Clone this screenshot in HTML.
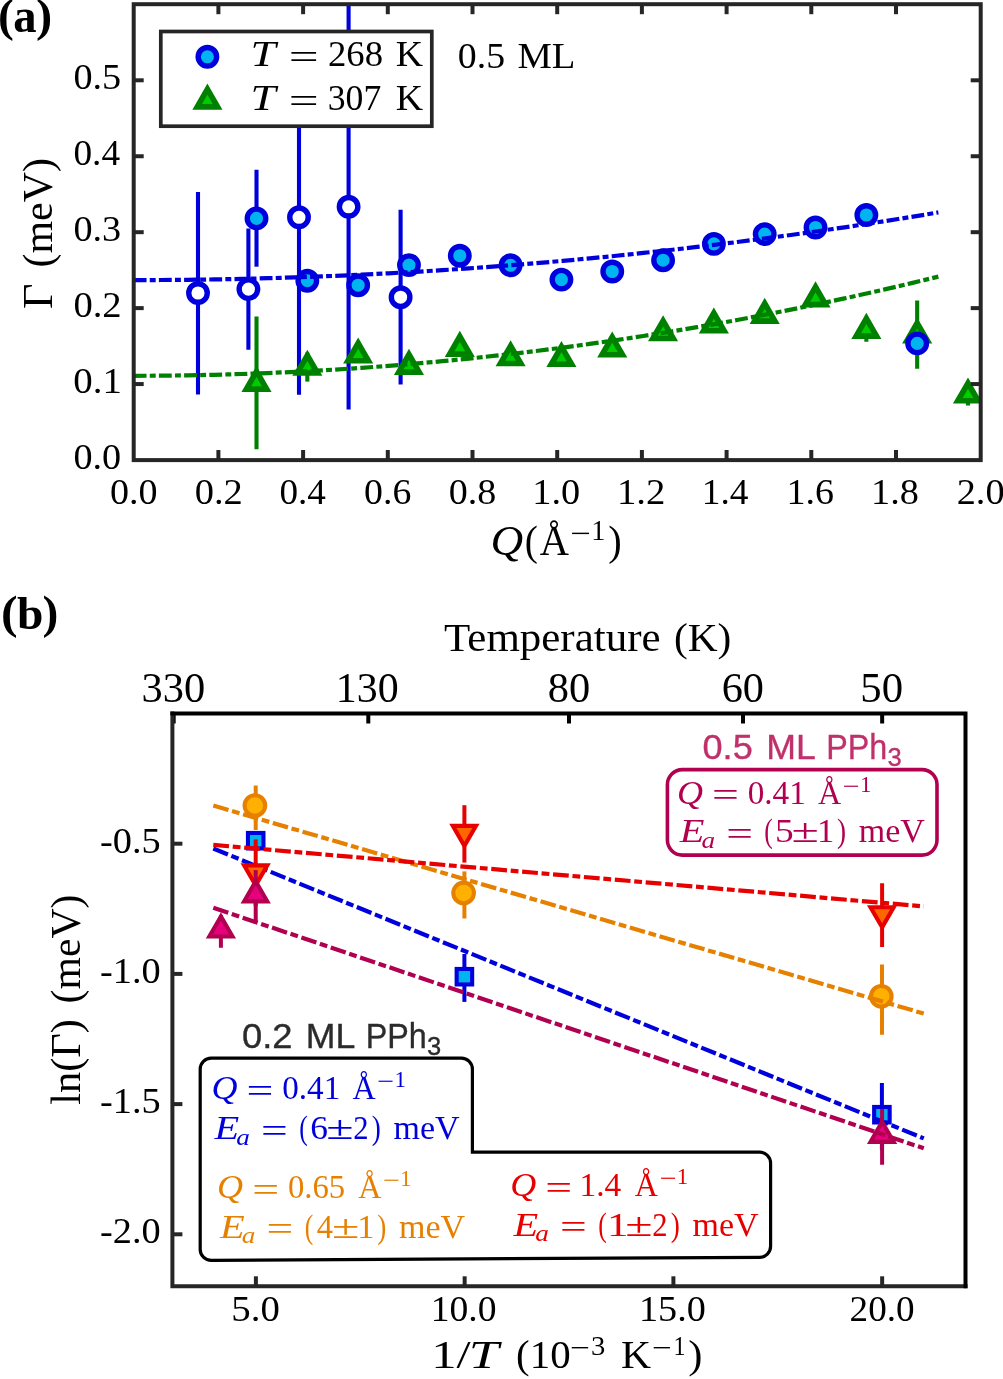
<!DOCTYPE html><html><head><meta charset="utf-8"><title>figure</title><style>html,body{margin:0;padding:0;background:#fff;overflow:hidden;}svg{display:block;will-change:transform;}</style></head><body><svg width="1003" height="1379" viewBox="0 0 1003 1379"><defs><clipPath id="ca"><rect x="133.7" y="4.2" width="847" height="455.8"/></clipPath><clipPath id="cb"><rect x="172.4" y="713.5" width="793.1" height="572.8"/></clipPath></defs>
<g clip-path="url(#ca)">
<line x1="198.00" y1="191.90" x2="198.00" y2="394.40" stroke="#0000dd" stroke-width="4.10"/>
<line x1="248.40" y1="228.40" x2="248.40" y2="349.80" stroke="#0000dd" stroke-width="4.10"/>
<line x1="299.00" y1="39.90" x2="299.00" y2="394.70" stroke="#0000dd" stroke-width="4.10"/>
<line x1="348.60" y1="0.00" x2="348.60" y2="409.60" stroke="#0000dd" stroke-width="4.10"/>
<line x1="400.60" y1="209.80" x2="400.60" y2="384.60" stroke="#0000dd" stroke-width="4.10"/>
<line x1="256.51" y1="169.70" x2="256.51" y2="266.70" stroke="#0000dd" stroke-width="4.10"/>
<line x1="256.51" y1="316.60" x2="256.51" y2="449.20" stroke="#008000" stroke-width="4.10"/>
<line x1="307.33" y1="352.50" x2="307.33" y2="381.60" stroke="#008000" stroke-width="4.10"/>
<line x1="866.36" y1="318.00" x2="866.36" y2="341.80" stroke="#008000" stroke-width="4.10"/>
<line x1="917.17" y1="300.40" x2="917.17" y2="368.80" stroke="#008000" stroke-width="4.10"/>
<line x1="967.99" y1="384.50" x2="967.99" y2="405.50" stroke="#008000" stroke-width="4.10"/>
<circle cx="198.00" cy="293.00" r="9.25" fill="#ffffff" stroke="#0000dd" stroke-width="5.40"/>
<circle cx="248.40" cy="289.10" r="9.25" fill="#ffffff" stroke="#0000dd" stroke-width="5.40"/>
<circle cx="299.00" cy="217.30" r="9.25" fill="#ffffff" stroke="#0000dd" stroke-width="5.40"/>
<circle cx="348.60" cy="206.80" r="9.25" fill="#ffffff" stroke="#0000dd" stroke-width="5.40"/>
<circle cx="400.60" cy="297.20" r="9.25" fill="#ffffff" stroke="#0000dd" stroke-width="5.40"/>
<polygon points="256.51,371.40 246.30,389.10 266.73,389.10" fill="#00cc00" stroke="#008000" stroke-width="5.60" stroke-linejoin="miter" stroke-miterlimit="10"/>
<polygon points="307.33,355.30 297.12,373.00 317.55,373.00" fill="#00cc00" stroke="#008000" stroke-width="5.60" stroke-linejoin="miter" stroke-miterlimit="10"/>
<polygon points="358.15,343.10 347.94,360.80 368.37,360.80" fill="#00cc00" stroke="#008000" stroke-width="5.60" stroke-linejoin="miter" stroke-miterlimit="10"/>
<polygon points="408.97,354.40 398.76,372.10 419.19,372.10" fill="#00cc00" stroke="#008000" stroke-width="5.60" stroke-linejoin="miter" stroke-miterlimit="10"/>
<polygon points="459.80,336.40 449.58,354.10 470.01,354.10" fill="#00cc00" stroke="#008000" stroke-width="5.60" stroke-linejoin="miter" stroke-miterlimit="10"/>
<polygon points="510.61,345.80 500.40,363.50 520.83,363.50" fill="#00cc00" stroke="#008000" stroke-width="5.60" stroke-linejoin="miter" stroke-miterlimit="10"/>
<polygon points="561.43,346.60 551.22,364.30 571.65,364.30" fill="#00cc00" stroke="#008000" stroke-width="5.60" stroke-linejoin="miter" stroke-miterlimit="10"/>
<polygon points="612.25,337.00 602.04,354.70 622.47,354.70" fill="#00cc00" stroke="#008000" stroke-width="5.60" stroke-linejoin="miter" stroke-miterlimit="10"/>
<polygon points="663.08,320.80 652.86,338.50 673.29,338.50" fill="#00cc00" stroke="#008000" stroke-width="5.60" stroke-linejoin="miter" stroke-miterlimit="10"/>
<polygon points="713.89,313.00 703.68,330.70 724.11,330.70" fill="#00cc00" stroke="#008000" stroke-width="5.60" stroke-linejoin="miter" stroke-miterlimit="10"/>
<polygon points="764.71,303.40 754.50,321.10 774.93,321.10" fill="#00cc00" stroke="#008000" stroke-width="5.60" stroke-linejoin="miter" stroke-miterlimit="10"/>
<polygon points="815.53,286.90 805.32,304.60 825.75,304.60" fill="#00cc00" stroke="#008000" stroke-width="5.60" stroke-linejoin="miter" stroke-miterlimit="10"/>
<polygon points="866.36,318.40 856.14,336.10 876.57,336.10" fill="#00cc00" stroke="#008000" stroke-width="5.60" stroke-linejoin="miter" stroke-miterlimit="10"/>
<polygon points="917.17,323.00 906.96,340.70 927.39,340.70" fill="#00cc00" stroke="#008000" stroke-width="5.60" stroke-linejoin="miter" stroke-miterlimit="10"/>
<polygon points="967.99,383.10 957.78,400.80 978.21,400.80" fill="#00cc00" stroke="#008000" stroke-width="5.60" stroke-linejoin="miter" stroke-miterlimit="10"/>
<circle cx="256.51" cy="218.40" r="9.25" fill="#00b4f0" stroke="#0000dd" stroke-width="5.40"/>
<circle cx="307.33" cy="280.70" r="9.25" fill="#00b4f0" stroke="#0000dd" stroke-width="5.40"/>
<circle cx="358.15" cy="285.20" r="9.25" fill="#00b4f0" stroke="#0000dd" stroke-width="5.40"/>
<circle cx="408.97" cy="265.10" r="9.25" fill="#00b4f0" stroke="#0000dd" stroke-width="5.40"/>
<circle cx="459.80" cy="255.70" r="9.25" fill="#00b4f0" stroke="#0000dd" stroke-width="5.40"/>
<circle cx="510.61" cy="265.30" r="9.25" fill="#00b4f0" stroke="#0000dd" stroke-width="5.40"/>
<circle cx="561.43" cy="279.60" r="9.25" fill="#00b4f0" stroke="#0000dd" stroke-width="5.40"/>
<circle cx="612.25" cy="271.50" r="9.25" fill="#00b4f0" stroke="#0000dd" stroke-width="5.40"/>
<circle cx="663.08" cy="260.20" r="9.25" fill="#00b4f0" stroke="#0000dd" stroke-width="5.40"/>
<circle cx="713.89" cy="243.90" r="9.25" fill="#00b4f0" stroke="#0000dd" stroke-width="5.40"/>
<circle cx="764.71" cy="234.10" r="9.25" fill="#00b4f0" stroke="#0000dd" stroke-width="5.40"/>
<circle cx="815.53" cy="227.50" r="9.25" fill="#00b4f0" stroke="#0000dd" stroke-width="5.40"/>
<circle cx="866.36" cy="215.00" r="9.25" fill="#00b4f0" stroke="#0000dd" stroke-width="5.40"/>
<circle cx="917.17" cy="343.40" r="9.25" fill="#00b4f0" stroke="#0000dd" stroke-width="5.40"/>
<polyline points="133.70,280.10 147.11,280.08 160.52,280.02 173.93,279.93 187.34,279.80 200.75,279.63 214.16,279.42 227.58,279.18 240.99,278.90 254.40,278.58 267.81,278.22 281.22,277.82 294.63,277.39 308.04,276.92 321.45,276.41 334.86,275.87 348.27,275.29 361.68,274.67 375.09,274.01 388.51,273.31 401.92,272.58 415.33,271.81 428.74,271.00 442.15,270.16 455.56,269.27 468.97,268.35 482.38,267.39 495.79,266.40 509.20,265.36 522.61,264.29 536.02,263.18 549.44,262.04 562.85,260.85 576.26,259.63 589.67,258.37 603.08,257.08 616.49,255.74 629.90,254.37 643.31,252.96 656.72,251.51 670.13,250.03 683.54,248.51 696.95,246.95 710.37,245.35 723.78,243.71 737.19,242.04 750.60,240.33 764.01,238.58 777.42,236.80 790.83,234.97 804.24,233.11 817.65,231.21 831.06,229.28 844.47,227.31 857.88,225.29 871.30,223.25 884.71,221.16 898.12,219.04 911.53,216.87 924.94,214.68 938.35,212.44" fill="none" stroke="#0000dd" stroke-width="4.20" stroke-dasharray="12.85 3.2 5.95 3.2"/>
<polyline points="133.70,375.78 147.11,375.75 160.52,375.67 173.93,375.53 187.34,375.34 200.75,375.09 214.16,374.79 227.58,374.43 240.99,374.02 254.40,373.55 267.81,373.03 281.22,372.45 294.63,371.82 308.04,371.13 321.45,370.38 334.86,369.58 348.27,368.73 361.68,367.82 375.09,366.86 388.51,365.84 401.92,364.76 415.33,363.63 428.74,362.45 442.15,361.21 455.56,359.91 468.97,358.56 482.38,357.16 495.79,355.70 509.20,354.18 522.61,352.61 536.02,350.99 549.44,349.31 562.85,347.57 576.26,345.78 589.67,343.93 603.08,342.03 616.49,340.08 629.90,338.06 643.31,336.00 656.72,333.88 670.13,331.70 683.54,329.47 696.95,327.18 710.37,324.84 723.78,322.44 737.19,319.99 750.60,317.48 764.01,314.92 777.42,312.30 790.83,309.63 804.24,306.90 817.65,304.12 831.06,301.28 844.47,298.39 857.88,295.44 871.30,292.44 884.71,289.38 898.12,286.27 911.53,283.10 924.94,279.88 938.35,276.60" fill="none" stroke="#008000" stroke-width="4.20" stroke-dasharray="12.85 3.2 5.95 3.2"/>
</g>
<line x1="218.40" y1="460.00" x2="218.40" y2="450.00" stroke="#262626" stroke-width="4.00"/>
<line x1="218.40" y1="4.20" x2="218.40" y2="14.20" stroke="#262626" stroke-width="4.00"/>
<line x1="303.10" y1="460.00" x2="303.10" y2="450.00" stroke="#262626" stroke-width="4.00"/>
<line x1="303.10" y1="4.20" x2="303.10" y2="14.20" stroke="#262626" stroke-width="4.00"/>
<line x1="387.80" y1="460.00" x2="387.80" y2="450.00" stroke="#262626" stroke-width="4.00"/>
<line x1="387.80" y1="4.20" x2="387.80" y2="14.20" stroke="#262626" stroke-width="4.00"/>
<line x1="472.50" y1="460.00" x2="472.50" y2="450.00" stroke="#262626" stroke-width="4.00"/>
<line x1="472.50" y1="4.20" x2="472.50" y2="14.20" stroke="#262626" stroke-width="4.00"/>
<line x1="557.20" y1="460.00" x2="557.20" y2="450.00" stroke="#262626" stroke-width="4.00"/>
<line x1="557.20" y1="4.20" x2="557.20" y2="14.20" stroke="#262626" stroke-width="4.00"/>
<line x1="641.90" y1="460.00" x2="641.90" y2="450.00" stroke="#262626" stroke-width="4.00"/>
<line x1="641.90" y1="4.20" x2="641.90" y2="14.20" stroke="#262626" stroke-width="4.00"/>
<line x1="726.60" y1="460.00" x2="726.60" y2="450.00" stroke="#262626" stroke-width="4.00"/>
<line x1="726.60" y1="4.20" x2="726.60" y2="14.20" stroke="#262626" stroke-width="4.00"/>
<line x1="811.30" y1="460.00" x2="811.30" y2="450.00" stroke="#262626" stroke-width="4.00"/>
<line x1="811.30" y1="4.20" x2="811.30" y2="14.20" stroke="#262626" stroke-width="4.00"/>
<line x1="896.00" y1="460.00" x2="896.00" y2="450.00" stroke="#262626" stroke-width="4.00"/>
<line x1="896.00" y1="4.20" x2="896.00" y2="14.20" stroke="#262626" stroke-width="4.00"/>
<line x1="133.70" y1="384.06" x2="143.70" y2="384.06" stroke="#262626" stroke-width="4.00"/>
<line x1="980.70" y1="384.06" x2="970.70" y2="384.06" stroke="#262626" stroke-width="4.00"/>
<line x1="133.70" y1="308.12" x2="143.70" y2="308.12" stroke="#262626" stroke-width="4.00"/>
<line x1="980.70" y1="308.12" x2="970.70" y2="308.12" stroke="#262626" stroke-width="4.00"/>
<line x1="133.70" y1="232.18" x2="143.70" y2="232.18" stroke="#262626" stroke-width="4.00"/>
<line x1="980.70" y1="232.18" x2="970.70" y2="232.18" stroke="#262626" stroke-width="4.00"/>
<line x1="133.70" y1="156.24" x2="143.70" y2="156.24" stroke="#262626" stroke-width="4.00"/>
<line x1="980.70" y1="156.24" x2="970.70" y2="156.24" stroke="#262626" stroke-width="4.00"/>
<line x1="133.70" y1="80.30" x2="143.70" y2="80.30" stroke="#262626" stroke-width="4.00"/>
<line x1="980.70" y1="80.30" x2="970.70" y2="80.30" stroke="#262626" stroke-width="4.00"/>
<rect x="133.7" y="4.2" width="847" height="455.9" fill="none" stroke="#262626" stroke-width="4.0" stroke-linejoin="miter"/>
<rect x="160.8" y="31.5" width="271" height="94.7" fill="#fff" stroke="#262626" stroke-width="3.7"/>
<circle cx="207.40" cy="56.80" r="9.25" fill="#00b4f0" stroke="#0000dd" stroke-width="5.40"/>
<polygon points="207.40,89.20 197.18,106.90 217.62,106.90" fill="#00cc00" stroke="#008000" stroke-width="5.60" stroke-linejoin="miter" stroke-miterlimit="10"/>
<g clip-path="url(#cb)">
<line x1="255.70" y1="833.00" x2="255.70" y2="849.00" stroke="#0000dd" stroke-width="4.00"/>
<line x1="464.40" y1="954.00" x2="464.40" y2="1001.90" stroke="#0000dd" stroke-width="4.00"/>
<line x1="881.90" y1="1083.10" x2="881.90" y2="1150.00" stroke="#0000dd" stroke-width="4.00"/>
<rect x="247.95" y="832.95" width="15.50" height="15.50" fill="#00b4f0" stroke="#0000dd" stroke-width="4.10"/>
<rect x="456.65" y="968.95" width="15.50" height="15.50" fill="#00b4f0" stroke="#0000dd" stroke-width="4.10"/>
<rect x="874.15" y="1106.95" width="15.50" height="15.50" fill="#00b4f0" stroke="#0000dd" stroke-width="4.10"/>
<polyline points="213.30,848.50 923.80,1138.40" fill="none" stroke="#0000dd" stroke-width="4.20" stroke-dasharray="15.8 3.7 7.8 3.7"/>
<line x1="255.70" y1="785.50" x2="255.70" y2="830.00" stroke="#e68000" stroke-width="4.00"/>
<line x1="464.40" y1="871.40" x2="464.40" y2="918.50" stroke="#e68000" stroke-width="4.00"/>
<line x1="882.00" y1="964.40" x2="882.00" y2="1034.80" stroke="#e68000" stroke-width="4.00"/>
<circle cx="254.90" cy="805.50" r="10.30" fill="#ffb000" stroke="#e68000" stroke-width="4.10"/>
<circle cx="463.60" cy="892.90" r="10.30" fill="#ffb000" stroke="#e68000" stroke-width="4.10"/>
<circle cx="881.30" cy="996.30" r="10.30" fill="#ffb000" stroke="#e68000" stroke-width="4.10"/>
<polyline points="213.30,805.50 923.80,1013.60" fill="none" stroke="#e68000" stroke-width="4.20" stroke-dasharray="15.8 3.7 7.8 3.7"/>
<line x1="255.70" y1="839.40" x2="255.70" y2="906.00" stroke="#e60000" stroke-width="4.00"/>
<line x1="464.40" y1="805.20" x2="464.40" y2="862.60" stroke="#e60000" stroke-width="4.00"/>
<line x1="882.10" y1="883.20" x2="882.10" y2="947.00" stroke="#e60000" stroke-width="4.00"/>
<polygon points="255.70,885.45 244.10,865.35 267.30,865.35" fill="#ff6600" stroke="#e60000" stroke-width="4.10" stroke-linejoin="miter" stroke-miterlimit="10"/>
<polygon points="464.40,845.95 452.80,825.85 476.00,825.85" fill="#ff6600" stroke="#e60000" stroke-width="4.10" stroke-linejoin="miter" stroke-miterlimit="10"/>
<polygon points="882.10,927.35 870.50,907.25 893.70,907.25" fill="#ff6600" stroke="#e60000" stroke-width="4.10" stroke-linejoin="miter" stroke-miterlimit="10"/>
<polyline points="213.30,844.90 923.80,906.40" fill="none" stroke="#e60000" stroke-width="4.20" stroke-dasharray="15.8 3.7 7.8 3.7"/>
<line x1="220.90" y1="915.00" x2="220.90" y2="947.80" stroke="#b0004f" stroke-width="4.00"/>
<line x1="255.70" y1="870.10" x2="255.70" y2="922.30" stroke="#b0004f" stroke-width="4.00"/>
<line x1="882.10" y1="1109.00" x2="882.10" y2="1164.80" stroke="#b0004f" stroke-width="4.00"/>
<polygon points="220.90,916.45 209.30,936.55 232.50,936.55" fill="#e6007e" stroke="#b0004f" stroke-width="4.10" stroke-linejoin="miter" stroke-miterlimit="10"/>
<polygon points="255.70,881.25 244.10,901.35 267.30,901.35" fill="#e6007e" stroke="#b0004f" stroke-width="4.10" stroke-linejoin="miter" stroke-miterlimit="10"/>
<polygon points="882.10,1121.75 870.50,1141.85 893.70,1141.85" fill="#e6007e" stroke="#b0004f" stroke-width="4.10" stroke-linejoin="miter" stroke-miterlimit="10"/>
<polyline points="213.30,907.70 923.80,1148.30" fill="none" stroke="#b0004f" stroke-width="4.20" stroke-dasharray="15.8 3.7 7.8 3.7"/>
</g>
<line x1="255.90" y1="1286.30" x2="255.90" y2="1276.30" stroke="#262626" stroke-width="4.00"/>
<line x1="464.65" y1="1286.30" x2="464.65" y2="1276.30" stroke="#262626" stroke-width="4.00"/>
<line x1="673.40" y1="1286.30" x2="673.40" y2="1276.30" stroke="#262626" stroke-width="4.00"/>
<line x1="882.15" y1="1286.30" x2="882.15" y2="1276.30" stroke="#262626" stroke-width="4.00"/>
<line x1="172.40" y1="843.70" x2="182.40" y2="843.70" stroke="#262626" stroke-width="4.00"/>
<line x1="172.40" y1="973.90" x2="182.40" y2="973.90" stroke="#262626" stroke-width="4.00"/>
<line x1="172.40" y1="1104.10" x2="182.40" y2="1104.10" stroke="#262626" stroke-width="4.00"/>
<line x1="172.40" y1="1234.30" x2="182.40" y2="1234.30" stroke="#262626" stroke-width="4.00"/>
<line x1="173.67" y1="713.50" x2="173.67" y2="723.50" stroke="#000" stroke-width="4.00"/>
<line x1="368.30" y1="713.50" x2="368.30" y2="723.50" stroke="#000" stroke-width="4.00"/>
<line x1="569.02" y1="713.50" x2="569.02" y2="723.50" stroke="#000" stroke-width="4.00"/>
<line x1="742.98" y1="713.50" x2="742.98" y2="723.50" stroke="#000" stroke-width="4.00"/>
<line x1="882.15" y1="713.50" x2="882.15" y2="723.50" stroke="#000" stroke-width="4.00"/>
<path d="M172.4,713.5 V1286.3 H965.5" fill="none" stroke="#262626" stroke-width="4.0" stroke-linejoin="miter" stroke-linecap="square"/>
<path d="M172.4,713.5 H965.5 V1286.3" fill="none" stroke="#000" stroke-width="4.0" stroke-linejoin="miter" stroke-linecap="square"/>
<rect x="667.4" y="769.6" width="269.6" height="85.5" rx="15" ry="15" fill="#fff" stroke="#b0004f" stroke-width="3.6"/>
<path d="M200.2,1069.2 A11,11 0 0 1 211.2,1058.2 H461.4 A11,11 0 0 1 472.4,1069.2 V1152.2 H759.6 A11,11 0 0 1 770.6,1163.2 V1246.3 A11,11 0 0 1 759.6,1257.3 L211.2,1260.4 A11,11 0 0 1 200.2,1249.4 Z" fill="#fff" stroke="#000" stroke-width="3.2" stroke-linejoin="miter"/>
<text transform="translate(-2.02,31.30) scale(1.0122,1.0000)" font-family='"Liberation Serif", serif' font-size="47" font-weight="bold" font-style="normal" fill="#000">(</text>
<text transform="translate(13.31,32.20) scale(0.9929,1.0157)" font-family='"Liberation Serif", serif' font-size="47" font-weight="bold" font-style="normal" fill="#000">a</text>
<text transform="translate(35.94,31.30) scale(1.0367,1.0000)" font-family='"Liberation Serif", serif' font-size="47" font-weight="bold" font-style="normal" fill="#000">)</text>
<text transform="translate(0.88,628.40) scale(1.0612,1.0000)" font-family='"Liberation Serif", serif' font-size="47" font-weight="bold" font-style="normal" fill="#000">(</text>
<text transform="translate(16.89,629.00) scale(1.0105,0.9771)" font-family='"Liberation Serif", serif' font-size="47" font-weight="bold" font-style="normal" fill="#000">b</text>
<text transform="translate(42.38,628.40) scale(1.0122,1.0000)" font-family='"Liberation Serif", serif' font-size="47" font-weight="bold" font-style="normal" fill="#000">)</text>
<text transform="translate(73.39,469.00) scale(1.0465,1.0000)" font-family='"Liberation Serif", serif' font-size="36.5" font-weight="normal" font-style="normal" fill="#000">0.0</text>
<text transform="translate(73.37,393.06) scale(1.0651,1.0000)" font-family='"Liberation Serif", serif' font-size="36.5" font-weight="normal" font-style="normal" fill="#000">0.1</text>
<text transform="translate(73.38,317.12) scale(1.0588,1.0000)" font-family='"Liberation Serif", serif' font-size="36.5" font-weight="normal" font-style="normal" fill="#000">0.2</text>
<text transform="translate(73.39,241.18) scale(1.0465,1.0000)" font-family='"Liberation Serif", serif' font-size="36.5" font-weight="normal" font-style="normal" fill="#000">0.3</text>
<text transform="translate(73.42,165.24) scale(1.0227,1.0000)" font-family='"Liberation Serif", serif' font-size="36.5" font-weight="normal" font-style="normal" fill="#000">0.4</text>
<text transform="translate(73.39,89.30) scale(1.0465,1.0000)" font-family='"Liberation Serif", serif' font-size="36.5" font-weight="normal" font-style="normal" fill="#000">0.5</text>
<text transform="translate(110.00,504.40) scale(1.0419,1.0000)" font-family='"Liberation Serif", serif' font-size="36.5" font-weight="normal" font-style="normal" fill="#000">0.0</text>
<text transform="translate(194.68,504.40) scale(1.0541,1.0000)" font-family='"Liberation Serif", serif' font-size="36.5" font-weight="normal" font-style="normal" fill="#000">0.2</text>
<text transform="translate(279.43,504.40) scale(1.0182,1.0000)" font-family='"Liberation Serif", serif' font-size="36.5" font-weight="normal" font-style="normal" fill="#000">0.4</text>
<text transform="translate(364.11,504.40) scale(1.0358,1.0000)" font-family='"Liberation Serif", serif' font-size="36.5" font-weight="normal" font-style="normal" fill="#000">0.6</text>
<text transform="translate(448.80,504.40) scale(1.0419,1.0000)" font-family='"Liberation Serif", serif' font-size="36.5" font-weight="normal" font-style="normal" fill="#000">0.8</text>
<text transform="translate(532.29,504.40) scale(1.0488,1.0000)" font-family='"Liberation Serif", serif' font-size="36.5" font-weight="normal" font-style="normal" fill="#000">1.0</text>
<text transform="translate(616.95,504.40) scale(1.0617,1.0000)" font-family='"Liberation Serif", serif' font-size="36.5" font-weight="normal" font-style="normal" fill="#000">1.2</text>
<text transform="translate(701.77,504.40) scale(1.0238,1.0000)" font-family='"Liberation Serif", serif' font-size="36.5" font-weight="normal" font-style="normal" fill="#000">1.4</text>
<text transform="translate(786.41,504.40) scale(1.0424,1.0000)" font-family='"Liberation Serif", serif' font-size="36.5" font-weight="normal" font-style="normal" fill="#000">1.6</text>
<text transform="translate(871.09,504.40) scale(1.0488,1.0000)" font-family='"Liberation Serif", serif' font-size="36.5" font-weight="normal" font-style="normal" fill="#000">1.8</text>
<text transform="translate(956.73,504.40) scale(1.0480,1.0000)" font-family='"Liberation Serif", serif' font-size="36.5" font-weight="normal" font-style="normal" fill="#000">2.0</text>
<text transform="translate(490.43,554.70) scale(1.0536,1.0000)" font-family='"Liberation Serif", serif' font-size="43" font-weight="normal" font-style="italic" fill="#000">Q</text>
<text transform="translate(524.70,554.70) scale(0.9156,1.0000)" font-family='"Liberation Serif", serif' font-size="43" font-weight="normal" font-style="normal" fill="#000">(</text>
<text transform="translate(539.76,554.70) scale(0.9410,1.0000)" font-family='"Liberation Serif", serif' font-size="43" font-weight="normal" font-style="normal" fill="#000">Å</text>
<text transform="translate(570.13,542.78) scale(1.2582,1.0000)" font-family='"Liberation Serif", serif' font-size="29" font-weight="normal" font-style="normal" fill="#000">−</text>
<text transform="translate(591.36,540.40) scale(0.9756,1.0000)" font-family='"Liberation Serif", serif' font-size="29" font-weight="normal" font-style="normal" fill="#000">1</text>
<text transform="translate(608.32,554.50) scale(0.9422,1.0000)" font-family='"Liberation Serif", serif' font-size="43" font-weight="normal" font-style="normal" fill="#000">)</text>
<text transform="translate(51.70,309.08) rotate(-90) scale(1.0247,1.0000)" font-family='"Liberation Serif", serif' font-size="43" font-weight="normal" font-style="normal" fill="#000">Γ</text>
<text transform="translate(51.70,267.61) rotate(-90) scale(0.9770,1.0000)" font-family='"Liberation Serif", serif' font-size="43" font-weight="normal" font-style="normal" fill="#000">(meV)</text>
<text transform="translate(250.47,65.80) scale(1.2600,1.0000)" font-family='"Liberation Serif", serif' font-size="36" font-weight="normal" font-style="italic" fill="#000">T</text>
<text transform="translate(288.72,68.61) scale(1.4746,1.0000)" font-family='"Liberation Serif", serif' font-size="36" font-weight="normal" font-style="normal" fill="#000">=</text>
<text transform="translate(327.97,65.80) scale(1.0205,1.0000)" font-family='"Liberation Serif", serif' font-size="36" font-weight="normal" font-style="normal" fill="#000">268</text>
<text transform="translate(395.75,65.80) scale(1.0505,1.0000)" font-family='"Liberation Serif", serif' font-size="36" font-weight="normal" font-style="normal" fill="#000">K</text>
<text transform="translate(250.47,109.70) scale(1.2600,1.0000)" font-family='"Liberation Serif", serif' font-size="36" font-weight="normal" font-style="italic" fill="#000">T</text>
<text transform="translate(288.72,112.51) scale(1.4746,1.0000)" font-family='"Liberation Serif", serif' font-size="36" font-weight="normal" font-style="normal" fill="#000">=</text>
<text transform="translate(327.77,109.70) scale(0.9912,1.0000)" font-family='"Liberation Serif", serif' font-size="36" font-weight="normal" font-style="normal" fill="#000">307</text>
<text transform="translate(395.75,109.70) scale(1.0505,1.0000)" font-family='"Liberation Serif", serif' font-size="36" font-weight="normal" font-style="normal" fill="#000">K</text>
<text transform="translate(457.81,67.70) scale(1.0349,1.0000)" font-family='"Liberation Serif", serif' font-size="36.5" font-weight="normal" font-style="normal" fill="#000">0.5</text>
<text transform="translate(517.44,67.70) scale(1.0602,1.0000)" font-family='"Liberation Serif", serif' font-size="36.5" font-weight="normal" font-style="normal" fill="#000">ML</text>
<text transform="translate(444.09,650.70) scale(1.0742,1.0000)" font-family='"Liberation Serif", serif' font-size="40" font-weight="normal" font-style="normal" fill="#000">Temperature</text>
<text transform="translate(673.89,650.70) scale(1.0346,1.0000)" font-family='"Liberation Serif", serif' font-size="40" font-weight="normal" font-style="normal" fill="#000">(K)</text>
<text transform="translate(141.54,701.80) scale(1.0118,1.0000)" font-family='"Liberation Serif", serif' font-size="42" font-weight="normal" font-style="normal" fill="#000">330</text>
<text transform="translate(335.86,701.80) scale(0.9983,1.0000)" font-family='"Liberation Serif", serif' font-size="42" font-weight="normal" font-style="normal" fill="#000">130</text>
<text transform="translate(547.81,701.80) scale(1.0103,1.0000)" font-family='"Liberation Serif", serif' font-size="42" font-weight="normal" font-style="normal" fill="#000">80</text>
<text transform="translate(721.72,701.80) scale(1.0065,1.0000)" font-family='"Liberation Serif", serif' font-size="42" font-weight="normal" font-style="normal" fill="#000">60</text>
<text transform="translate(860.25,701.80) scale(1.0184,1.0000)" font-family='"Liberation Serif", serif' font-size="42" font-weight="normal" font-style="normal" fill="#000">50</text>
<text transform="translate(231.32,1321.40) scale(1.0627,1.0000)" font-family='"Liberation Serif", serif' font-size="36.5" font-weight="normal" font-style="normal" fill="#000">5.0</text>
<text transform="translate(430.80,1321.40) scale(1.0295,1.0000)" font-family='"Liberation Serif", serif' font-size="36.5" font-weight="normal" font-style="normal" fill="#000">10.0</text>
<text transform="translate(639.00,1321.40) scale(1.0464,1.0000)" font-family='"Liberation Serif", serif' font-size="36.5" font-weight="normal" font-style="normal" fill="#000">15.0</text>
<text transform="translate(849.57,1321.40) scale(1.0180,1.0000)" font-family='"Liberation Serif", serif' font-size="36.5" font-weight="normal" font-style="normal" fill="#000">20.0</text>
<text transform="translate(100.09,852.70) scale(1.0498,1.0000)" font-family='"Liberation Serif", serif' font-size="36.5" font-weight="normal" font-style="normal" fill="#000">-0.5</text>
<text transform="translate(100.09,982.90) scale(1.0498,1.0000)" font-family='"Liberation Serif", serif' font-size="36.5" font-weight="normal" font-style="normal" fill="#000">-1.0</text>
<text transform="translate(100.09,1113.10) scale(1.0498,1.0000)" font-family='"Liberation Serif", serif' font-size="36.5" font-weight="normal" font-style="normal" fill="#000">-1.5</text>
<text transform="translate(100.09,1243.30) scale(1.0498,1.0000)" font-family='"Liberation Serif", serif' font-size="36.5" font-weight="normal" font-style="normal" fill="#000">-2.0</text>
<text transform="translate(431.16,1367.70) scale(1.2691,1.0000)" font-family='"Liberation Serif", serif' font-size="40" font-weight="normal" font-style="normal" fill="#000">1/</text>
<text transform="translate(468.63,1367.70) scale(1.3483,1.0000)" font-family='"Liberation Serif", serif' font-size="40" font-weight="normal" font-style="italic" fill="#000">T</text>
<text transform="translate(516.11,1367.70) scale(1.0220,1.0000)" font-family='"Liberation Serif", serif' font-size="40" font-weight="normal" font-style="normal" fill="#000">(10</text>
<text transform="translate(570.32,1356.90) scale(1.2604,1.0000)" font-family='"Liberation Serif", serif' font-size="28" font-weight="normal" font-style="normal" fill="#000">−</text>
<text transform="translate(591.12,1354.60) scale(1.0213,1.0000)" font-family='"Liberation Serif", serif' font-size="28" font-weight="normal" font-style="normal" fill="#000">3</text>
<text transform="translate(621.06,1367.70) scale(1.0400,1.0000)" font-family='"Liberation Serif", serif' font-size="40" font-weight="normal" font-style="normal" fill="#000">K</text>
<text transform="translate(652.24,1356.90) scale(1.2453,1.0000)" font-family='"Liberation Serif", serif' font-size="28" font-weight="normal" font-style="normal" fill="#000">−</text>
<text transform="translate(673.45,1354.60) scale(0.8600,1.0000)" font-family='"Liberation Serif", serif' font-size="28" font-weight="normal" font-style="normal" fill="#000">1</text>
<text transform="translate(688.27,1367.70) scale(1.0667,1.0000)" font-family='"Liberation Serif", serif' font-size="40" font-weight="normal" font-style="normal" fill="#000">)</text>
<text transform="translate(79.60,1104.84) rotate(-90) scale(0.9864,1.0000)" font-family='"Liberation Serif", serif' font-size="43" font-weight="normal" font-style="normal" fill="#000">ln(Γ)</text>
<text transform="translate(79.60,1003.50) rotate(-90) scale(0.9714,1.0000)" font-family='"Liberation Serif", serif' font-size="43" font-weight="normal" font-style="normal" fill="#000">(meV)</text>
<text transform="translate(702.51,758.50) scale(1.0326,1.0000)" font-family='"Liberation Sans", sans-serif' font-size="35" font-weight="normal" font-style="normal" fill="#c0306a" stroke="#c0306a" stroke-width="0.35">0.5</text>
<text transform="translate(766.30,758.50) scale(1.0190,1.0000)" font-family='"Liberation Sans", sans-serif' font-size="35" font-weight="normal" font-style="normal" fill="#c0306a" stroke="#c0306a" stroke-width="0.35">ML</text>
<text transform="translate(826.26,758.50) scale(0.9224,1.0000)" font-family='"Liberation Sans", sans-serif' font-size="35" font-weight="normal" font-style="normal" fill="#c0306a" stroke="#c0306a" stroke-width="0.35">PPh</text>
<text transform="translate(887.38,765.50) scale(1.0213,1.0000)" font-family='"Liberation Sans", sans-serif' font-size="25" font-weight="normal" font-style="normal" fill="#c0306a" stroke="#c0306a" stroke-width="0.35">3</text>
<text transform="translate(242.00,1048.30) scale(1.0383,1.0000)" font-family='"Liberation Sans", sans-serif' font-size="35" font-weight="normal" font-style="normal" fill="#2b2b2b" stroke="#2b2b2b" stroke-width="0.35">0.2</text>
<text transform="translate(305.80,1048.30) scale(1.0190,1.0000)" font-family='"Liberation Sans", sans-serif' font-size="35" font-weight="normal" font-style="normal" fill="#2b2b2b" stroke="#2b2b2b" stroke-width="0.35">ML</text>
<text transform="translate(365.76,1048.30) scale(0.9224,1.0000)" font-family='"Liberation Sans", sans-serif' font-size="35" font-weight="normal" font-style="normal" fill="#2b2b2b" stroke="#2b2b2b" stroke-width="0.35">PPh</text>
<text transform="translate(426.88,1055.30) scale(1.0213,1.0000)" font-family='"Liberation Sans", sans-serif' font-size="25" font-weight="normal" font-style="normal" fill="#2b2b2b" stroke="#2b2b2b" stroke-width="0.35">3</text>
<text transform="translate(676.89,803.50) scale(1.0930,1.0000)" font-family='"Liberation Serif", serif' font-size="33" font-weight="normal" font-style="italic" fill="#b0004f">Q</text>
<text transform="translate(712.03,806.07) scale(1.4452,1.0000)" font-family='"Liberation Serif", serif' font-size="33" font-weight="normal" font-style="normal" fill="#b0004f">=</text>
<text transform="translate(747.74,803.50) scale(1.0055,1.0000)" font-family='"Liberation Serif", serif' font-size="33" font-weight="normal" font-style="normal" fill="#b0004f">0.41</text>
<text transform="translate(817.96,803.50) scale(0.9745,1.0000)" font-family='"Liberation Serif", serif' font-size="33" font-weight="normal" font-style="normal" fill="#b0004f">Å</text>
<text transform="translate(842.85,793.57) scale(1.2522,1.0000)" font-family='"Liberation Serif", serif' font-size="24" font-weight="normal" font-style="normal" fill="#b0004f">−</text>
<text transform="translate(859.88,791.60) scale(0.9600,1.0000)" font-family='"Liberation Serif", serif' font-size="24" font-weight="normal" font-style="normal" fill="#b0004f">1</text>
<text transform="translate(679.71,842.00) scale(1.2247,1.0000)" font-family='"Liberation Serif", serif' font-size="33" font-weight="normal" font-style="italic" fill="#b0004f">E</text>
<text transform="translate(701.45,847.80) scale(1.1333,1.0000)" font-family='"Liberation Serif", serif' font-size="24" font-weight="normal" font-style="italic" fill="#b0004f">a</text>
<text transform="translate(726.14,844.57) scale(1.4387,1.0000)" font-family='"Liberation Serif", serif' font-size="33" font-weight="normal" font-style="normal" fill="#b0004f">=</text>
<text transform="translate(764.34,842.00) scale(0.7765,1.0000)" font-family='"Liberation Serif", serif' font-size="33" font-weight="normal" font-style="normal" fill="#b0004f">(</text>
<text transform="translate(774.92,842.00) scale(1.1333,1.0000)" font-family='"Liberation Serif", serif' font-size="33" font-weight="normal" font-style="normal" fill="#b0004f">5</text>
<text transform="translate(791.51,842.00) scale(1.5097,1.0000)" font-family='"Liberation Serif", serif' font-size="33" font-weight="normal" font-style="normal" fill="#b0004f">±</text>
<text transform="translate(816.92,842.00) scale(1.0468,1.0000)" font-family='"Liberation Serif", serif' font-size="33" font-weight="normal" font-style="normal" fill="#b0004f">1</text>
<text transform="translate(836.88,842.00) scale(0.8235,1.0000)" font-family='"Liberation Serif", serif' font-size="33" font-weight="normal" font-style="normal" fill="#b0004f">)</text>
<text transform="translate(858.68,842.00) scale(1.0308,1.0000)" font-family='"Liberation Serif", serif' font-size="33" font-weight="normal" font-style="normal" fill="#b0004f">meV</text>
<text transform="translate(211.39,1099.30) scale(1.0930,1.0000)" font-family='"Liberation Serif", serif' font-size="33" font-weight="normal" font-style="italic" fill="#0000dd">Q</text>
<text transform="translate(246.53,1101.87) scale(1.4452,1.0000)" font-family='"Liberation Serif", serif' font-size="33" font-weight="normal" font-style="normal" fill="#0000dd">=</text>
<text transform="translate(282.24,1099.30) scale(1.0055,1.0000)" font-family='"Liberation Serif", serif' font-size="33" font-weight="normal" font-style="normal" fill="#0000dd">0.41</text>
<text transform="translate(352.46,1099.30) scale(0.9745,1.0000)" font-family='"Liberation Serif", serif' font-size="33" font-weight="normal" font-style="normal" fill="#0000dd">Å</text>
<text transform="translate(377.35,1089.37) scale(1.2522,1.0000)" font-family='"Liberation Serif", serif' font-size="24" font-weight="normal" font-style="normal" fill="#0000dd">−</text>
<text transform="translate(394.38,1087.40) scale(0.9600,1.0000)" font-family='"Liberation Serif", serif' font-size="24" font-weight="normal" font-style="normal" fill="#0000dd">1</text>
<text transform="translate(214.51,1139.00) scale(1.2247,1.0000)" font-family='"Liberation Serif", serif' font-size="33" font-weight="normal" font-style="italic" fill="#0000dd">E</text>
<text transform="translate(236.25,1144.80) scale(1.1333,1.0000)" font-family='"Liberation Serif", serif' font-size="24" font-weight="normal" font-style="italic" fill="#0000dd">a</text>
<text transform="translate(260.94,1141.57) scale(1.4387,1.0000)" font-family='"Liberation Serif", serif' font-size="33" font-weight="normal" font-style="normal" fill="#0000dd">=</text>
<text transform="translate(299.14,1139.00) scale(0.7765,1.0000)" font-family='"Liberation Serif", serif' font-size="33" font-weight="normal" font-style="normal" fill="#0000dd">(</text>
<text transform="translate(310.36,1139.00) scale(1.0737,1.0000)" font-family='"Liberation Serif", serif' font-size="33" font-weight="normal" font-style="normal" fill="#0000dd">6</text>
<text transform="translate(326.31,1139.00) scale(1.5097,1.0000)" font-family='"Liberation Serif", serif' font-size="33" font-weight="normal" font-style="normal" fill="#0000dd">±</text>
<text transform="translate(353.21,1139.00) scale(0.9283,1.0000)" font-family='"Liberation Serif", serif' font-size="33" font-weight="normal" font-style="normal" fill="#0000dd">2</text>
<text transform="translate(371.68,1139.00) scale(0.8235,1.0000)" font-family='"Liberation Serif", serif' font-size="33" font-weight="normal" font-style="normal" fill="#0000dd">)</text>
<text transform="translate(393.48,1139.00) scale(1.0308,1.0000)" font-family='"Liberation Serif", serif' font-size="33" font-weight="normal" font-style="normal" fill="#0000dd">meV</text>
<text transform="translate(217.09,1198.30) scale(1.0930,1.0000)" font-family='"Liberation Serif", serif' font-size="33" font-weight="normal" font-style="italic" fill="#e68000">Q</text>
<text transform="translate(252.23,1200.87) scale(1.4452,1.0000)" font-family='"Liberation Serif", serif' font-size="33" font-weight="normal" font-style="normal" fill="#e68000">=</text>
<text transform="translate(287.96,1198.30) scale(0.9919,1.0000)" font-family='"Liberation Serif", serif' font-size="33" font-weight="normal" font-style="normal" fill="#e68000">0.65</text>
<text transform="translate(358.16,1198.30) scale(0.9745,1.0000)" font-family='"Liberation Serif", serif' font-size="33" font-weight="normal" font-style="normal" fill="#e68000">Å</text>
<text transform="translate(383.05,1188.37) scale(1.2522,1.0000)" font-family='"Liberation Serif", serif' font-size="24" font-weight="normal" font-style="normal" fill="#e68000">−</text>
<text transform="translate(400.08,1186.40) scale(0.9600,1.0000)" font-family='"Liberation Serif", serif' font-size="24" font-weight="normal" font-style="normal" fill="#e68000">1</text>
<text transform="translate(220.11,1237.50) scale(1.2247,1.0000)" font-family='"Liberation Serif", serif' font-size="33" font-weight="normal" font-style="italic" fill="#e68000">E</text>
<text transform="translate(241.85,1243.30) scale(1.1333,1.0000)" font-family='"Liberation Serif", serif' font-size="24" font-weight="normal" font-style="italic" fill="#e68000">a</text>
<text transform="translate(266.54,1240.07) scale(1.4387,1.0000)" font-family='"Liberation Serif", serif' font-size="33" font-weight="normal" font-style="normal" fill="#e68000">=</text>
<text transform="translate(304.74,1237.50) scale(0.7765,1.0000)" font-family='"Liberation Serif", serif' font-size="33" font-weight="normal" font-style="normal" fill="#e68000">(</text>
<text transform="translate(316.81,1237.50) scale(0.9871,1.0000)" font-family='"Liberation Serif", serif' font-size="33" font-weight="normal" font-style="normal" fill="#e68000">4</text>
<text transform="translate(331.91,1237.50) scale(1.5097,1.0000)" font-family='"Liberation Serif", serif' font-size="33" font-weight="normal" font-style="normal" fill="#e68000">±</text>
<text transform="translate(357.32,1237.50) scale(1.0468,1.0000)" font-family='"Liberation Serif", serif' font-size="33" font-weight="normal" font-style="normal" fill="#e68000">1</text>
<text transform="translate(377.28,1237.50) scale(0.8235,1.0000)" font-family='"Liberation Serif", serif' font-size="33" font-weight="normal" font-style="normal" fill="#e68000">)</text>
<text transform="translate(399.08,1237.50) scale(1.0308,1.0000)" font-family='"Liberation Serif", serif' font-size="33" font-weight="normal" font-style="normal" fill="#e68000">meV</text>
<text transform="translate(510.19,1196.30) scale(1.0930,1.0000)" font-family='"Liberation Serif", serif' font-size="33" font-weight="normal" font-style="italic" fill="#e60000">Q</text>
<text transform="translate(545.33,1198.87) scale(1.4452,1.0000)" font-family='"Liberation Serif", serif' font-size="33" font-weight="normal" font-style="normal" fill="#e60000">=</text>
<text transform="translate(579.52,1196.30) scale(1.0105,1.0000)" font-family='"Liberation Serif", serif' font-size="33" font-weight="normal" font-style="normal" fill="#e60000">1.4</text>
<text transform="translate(634.86,1196.30) scale(0.9745,1.0000)" font-family='"Liberation Serif", serif' font-size="33" font-weight="normal" font-style="normal" fill="#e60000">Å</text>
<text transform="translate(659.75,1186.37) scale(1.2522,1.0000)" font-family='"Liberation Serif", serif' font-size="24" font-weight="normal" font-style="normal" fill="#e60000">−</text>
<text transform="translate(676.78,1184.40) scale(0.9600,1.0000)" font-family='"Liberation Serif", serif' font-size="24" font-weight="normal" font-style="normal" fill="#e60000">1</text>
<text transform="translate(513.51,1235.60) scale(1.2247,1.0000)" font-family='"Liberation Serif", serif' font-size="33" font-weight="normal" font-style="italic" fill="#e60000">E</text>
<text transform="translate(535.25,1241.40) scale(1.1333,1.0000)" font-family='"Liberation Serif", serif' font-size="24" font-weight="normal" font-style="italic" fill="#e60000">a</text>
<text transform="translate(559.94,1238.17) scale(1.4387,1.0000)" font-family='"Liberation Serif", serif' font-size="33" font-weight="normal" font-style="normal" fill="#e60000">=</text>
<text transform="translate(598.14,1235.60) scale(0.7765,1.0000)" font-family='"Liberation Serif", serif' font-size="33" font-weight="normal" font-style="normal" fill="#e60000">(</text>
<text transform="translate(607.12,1235.60) scale(1.3021,1.0000)" font-family='"Liberation Serif", serif' font-size="33" font-weight="normal" font-style="normal" fill="#e60000">1</text>
<text transform="translate(625.31,1235.60) scale(1.5097,1.0000)" font-family='"Liberation Serif", serif' font-size="33" font-weight="normal" font-style="normal" fill="#e60000">±</text>
<text transform="translate(652.21,1235.60) scale(0.9283,1.0000)" font-family='"Liberation Serif", serif' font-size="33" font-weight="normal" font-style="normal" fill="#e60000">2</text>
<text transform="translate(670.68,1235.60) scale(0.8235,1.0000)" font-family='"Liberation Serif", serif' font-size="33" font-weight="normal" font-style="normal" fill="#e60000">)</text>
<text transform="translate(692.48,1235.60) scale(1.0308,1.0000)" font-family='"Liberation Serif", serif' font-size="33" font-weight="normal" font-style="normal" fill="#e60000">meV</text></svg></body></html>
